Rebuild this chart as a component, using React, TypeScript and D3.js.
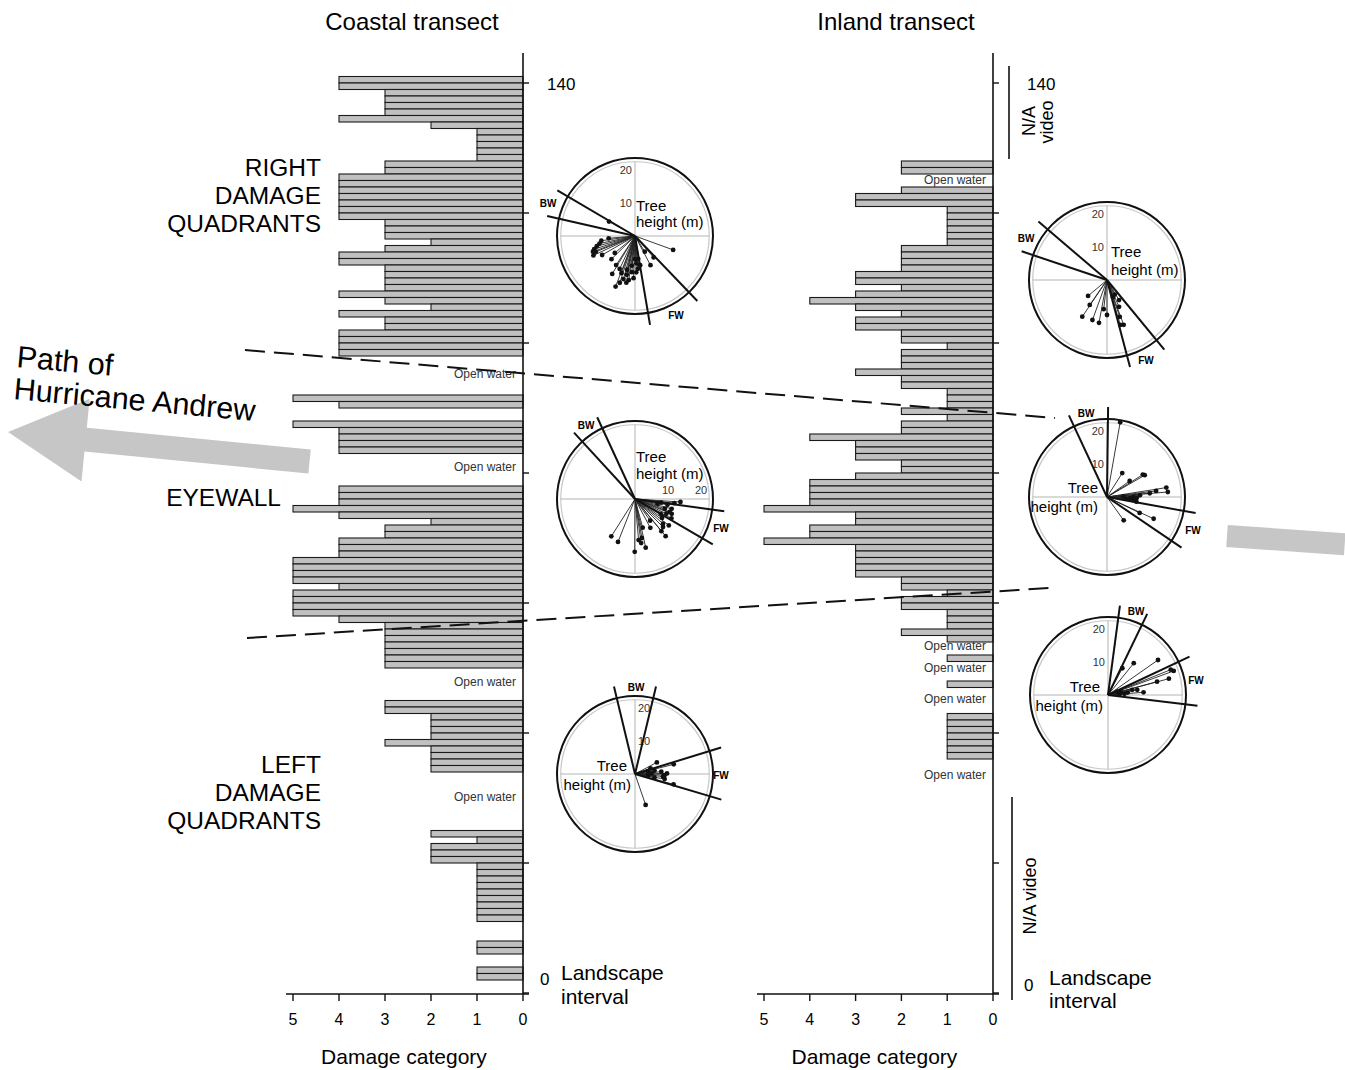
import React from "react"
import * as d3 from "d3"

// Damage category for each landscape interval, listed from the top of the transect down.
// null = open water / no bar
const coastalTopInterval = 141
const coastalDamage = [
  4, 4, 3, 3, 3, 3, 4, 2, 1, 1, 1, 1, 1, 3, 3, 4, 4, 4, 4, 4, 4, 4, 3, 3, 3, 2, 3, 4, 4, 3, 3, 3, 3, 4, 3, 2, 4, 3, 3, 4, 4, 4, 4,
  null, null, null, null, null, null,
  5, 4,
  null, null,
  5, 4, 4, 4, 4,
  null, null, null, null, null,
  4, 4, 4, 5, 4, 2, 3, 3, 4, 4, 4, 5, 5, 5, 5, 4, 5, 5, 5, 5, 4, 3, 3, 3, 3, 3, 3, 3,
  null, null, null, null, null,
  3, 3, 2, 2, 2, 2, 3, 2, 2, 2, 2,
  null, null, null, null, null, null, null, null, null,
  2, 1, 2, 2, 2, 1, 1, 1, 1, 1, 1, 1, 1, 1,
  null, null, null,
  1, 1,
  null, null,
  1, 1
]

const inlandTopInterval = 128
const inlandDamage = [
  2, 2,
  null, null,
  2, 3, 3, 1, 1, 1, 1, 1, 1, 2, 2, 2, 2, 3, 3, 2, 3, 4, 3, 2, 3, 3, 2, 2, 1, 2, 2, 2, 3,
  2, 2, 1, 1, 1, 2, 1, 2, 2, 4, 3, 3, 3, 2, 2, 3, 4, 4, 4, 4, 5, 3, 3, 4, 4, 5, 3, 3, 3, 3, 3, 2, 2, 1, 2, 2, 1, 1, 1,
  2, 1,
  null, null,
  1,
  null, null, null,
  1,
  null, null, null, null,
  1, 1, 1, 1, 1, 1, 1
]

// "Open water" annotations (landscape interval at the label)
const coastalOpenWater = [95.2, 80.9, 47.8, 30.2]
const inlandOpenWater = [125.1, 53.4, 50.0, 45.2, 33.5]

const damageTicks = [5, 4, 3, 2, 1, 0]
const intervalTicks = [0, 20, 40, 60, 80, 100, 120, 140]

// Tree falls: [bearing in degrees, tree height in m]
const coastalRightFalls = [
  [110, 12.3], [148, 5.6], [139, 8.6], [152, 10], [299, 9], [262, 10.3], [249.5, 13.6], [252, 13], [255, 12],
  [258, 11], [248, 12.8], [245, 13.9], [240, 11.5], [225.5, 10], [213, 10.5], [211, 13.4], [201, 16.4], [198, 14.9],
  [190.5, 14.4], [177, 8.3], [185, 11], [192, 12], [195, 13.5], [188, 13.5], [182, 12.8], [178, 11], [186, 9],
  [175, 10], [172, 7], [193, 10.5], [200, 12], [205, 11], [170, 9], [180, 7], [230, 8], [265, 8]
]
const coastalEyeFalls = [
  [93.8, 13.8], [110.5, 11.2], [105, 11.5], [100, 10], [98, 8], [102, 7], [108, 9.5], [115, 10.5], [120, 9],
  [125, 10], [131.4, 11.3], [140.5, 14.6], [140.6, 12.6], [135, 12], [152, 9.9], [145, 8], [212.4, 13.4],
  [201.6, 14], [180.3, 16], [167.6, 15.1], [172, 13.5], [175, 12.5], [170, 12], [165, 9], [96, 12], [112, 12],
  [118, 12.5], [128, 13]
]
const coastalLeftFalls = [
  [161, 9.9], [76, 12.1], [62, 7.5], [105, 12.1], [99.6, 9.1], [89, 9.7], [92, 9], [95, 8.5], [85, 8],
  [80, 6], [70, 5], [88, 5], [100, 6], [78, 4], [95, 4]
]
const inlandRightFalls = [
  [229.9, 7.5], [214.7, 9.2], [214, 13.4], [200, 12.9], [190.6, 13.2], [186.4, 8.9], [180, 10.6], [160.9, 5.5],
  [149, 7.1], [155.8, 8.9], [160.9, 11.8], [163.5, 14.2], [159.6, 14.5], [152, 5]
]
const inlandEyeFalls = [
  [10, 23], [32.5, 8.6], [54.8, 8.4], [60, 13.2], [58, 12.8], [81, 18.2], [85.3, 18.5], [83, 15], [85, 13],
  [87, 10], [90, 8], [93, 7], [95, 6], [92, 9], [97, 8], [99, 9], [144.4, 8.7], [116, 11], [115, 15.6], [88, 5]
]
const inlandLeftFalls = [
  [28.2, 9.2], [39, 12.4], [55, 18.5], [69.9, 21.2], [68, 20.5], [75, 19.1], [74.8, 15.4], [85.7, 10.8],
  [80, 9], [78, 7.5], [83, 6], [86, 5], [76, 4], [88, 3.5], [70, 3]
]

// Backwind / forward wind sector bounds (bearings, degrees)
const coastalRightBW = [300.5, 282.8]
const coastalRightFW = [136.2, 170.4]
const coastalEyeBW = [335.2, 317.4]
const coastalEyeFW = [97.8, 120.3]
const coastalLeftBW = [346.5, 13.5]
const coastalLeftFW = [72.9, 106.5]
const inlandRightBW = [310.4, 288.6]
const inlandRightFW = [140.5, 165.2]
const inlandEyeBW = [335, 0.7]
const inlandEyeFW = [100.3, 124.2]
const inlandLeftBW = [7.6, 25.8]
const inlandLeftFW = [64.8, 96.8]

const FONT = "'Liberation Sans', Arial, Helvetica, sans-serif"

const yScale = d3.scaleLinear().domain([0, 140]).range([993, 83])
const rScale = d3.scaleLinear().domain([0, 20]).range([0, 66])
const toRad = (deg) => (deg * Math.PI) / 180

function Transect({ data, top, axisX, leftX, openWater, title, titleX, labelX }) {
  const x = d3.scaleLinear().domain([0, 5]).range([axisX, leftX])
  const barH = yScale(0) - yScale(1)
  return (
    <g>
      <text x={titleX} y={30} fontSize={24} textAnchor="middle" fontFamily={FONT}>{title}</text>
      {data.map((d, i) =>
        d == null ? null : (
          <rect
            key={i}
            x={x(d)}
            y={yScale(top - i)}
            width={x(0) - x(d)}
            height={barH}
            fill="#c0c0c0"
            stroke="#1a1a1a"
            strokeWidth={1.1}
          />
        )
      )}
      {openWater.map((v, i) => (
        <text key={i} x={axisX - 7} y={yScale(v) + 4} fontSize={12} textAnchor="end" fill="#333" fontFamily={FONT}>
          Open water
        </text>
      ))}
      <line x1={axisX} x2={axisX} y1={53} y2={994} stroke="#111" strokeWidth={1.6} />
      {intervalTicks.map((t) => (
        <line key={t} x1={axisX} x2={axisX + 6} y1={yScale(t)} y2={yScale(t)} stroke="#111" strokeWidth={1.4} />
      ))}
      <line x1={leftX - 7} x2={axisX + 6} y1={994} y2={994} stroke="#111" strokeWidth={1.6} />
      {damageTicks.map((t) => (
        <g key={t}>
          <line x1={x(t)} x2={x(t)} y1={994} y2={1001} stroke="#111" strokeWidth={1.4} />
          <text x={x(t)} y={1025} fontSize={16} textAnchor="middle" fontFamily={FONT}>{t}</text>
        </g>
      ))}
      <text x={(leftX + axisX) / 2 - 4} y={1064} fontSize={21} textAnchor="middle" fontFamily={FONT}>
        Damage category
      </text>
      <text x={labelX} y={yScale(140) + 7} fontSize={17} fontFamily={FONT}>140</text>
    </g>
  )
}

function Polar({ cx, cy, falls, bw, fw, scaleSide, tree, bwLabel, fwLabel }) {
  const ring = rScale(22.5)
  const windLen = rScale(27.3)
  const pt = (deg, v) => d3.pointRadial(toRad(deg), v)
  return (
    <g transform={`translate(${cx},${cy})`} fontFamily={FONT}>
      <circle r={ring} fill="none" stroke="#c8c8c8" strokeWidth={1.2} />
      <circle r={78} fill="none" stroke="#111" strokeWidth={2} />
      <line x1={-ring} x2={ring} y1={0} y2={0} stroke="#b4b4b4" strokeWidth={1} />
      <line x1={0} x2={0} y1={-ring} y2={ring} stroke="#b4b4b4" strokeWidth={1} />
      {[10, 20].map((v) =>
        scaleSide === "east" ? (
          <text key={v} x={rScale(v)} y={-5} fontSize={11} textAnchor="middle" fill="#333">{v}</text>
        ) : (
          <text
            key={v}
            x={scaleSide === "left" ? -3 : 3}
            y={-rScale(v) + 4}
            fontSize={11}
            textAnchor={scaleSide === "left" ? "end" : "start"}
            fill="#333"
          >
            {v}
          </text>
        )
      )}
      <text x={tree.x} y={tree.y1 + 5} fontSize={15} textAnchor={tree.anchor}>Tree</text>
      <text x={tree.x2} y={tree.y2 + 5} fontSize={15} textAnchor={tree.anchor}>height (m)</text>
      {falls.map(([a, h], i) => {
        const [px, py] = pt(a, rScale(h))
        return <line key={i} x1={0} y1={0} x2={px} y2={py} stroke="#222" strokeWidth={0.9} />
      })}
      {falls.map(([a, h], i) => {
        const [px, py] = pt(a, rScale(h))
        return <circle key={i} cx={px} cy={py} r={2.4} fill="#111" />
      })}
      {[...bw, ...fw].map((a, i) => {
        const [px, py] = pt(a, windLen)
        return <line key={i} x1={0} y1={0} x2={px} y2={py} stroke="#111" strokeWidth={2} />
      })}
      <text x={bwLabel[0]} y={bwLabel[1] + 4} fontSize={10} fontWeight="bold" textAnchor="middle">BW</text>
      <text x={fwLabel[0]} y={fwLabel[1] + 4} fontSize={10} fontWeight="bold" textAnchor="middle">FW</text>
    </g>
  )
}

const polarPlots = [
  {
    cx: 635, cy: 236, falls: coastalRightFalls, bw: coastalRightBW, fw: coastalRightFW, scaleSide: "left",
    tree: { anchor: "start", x: 1, x2: 1, y1: -30, y2: -14 }, bwLabel: [-87, -33], fwLabel: [41, 79]
  },
  {
    cx: 635, cy: 499, falls: coastalEyeFalls, bw: coastalEyeBW, fw: coastalEyeFW, scaleSide: "east",
    tree: { anchor: "start", x: 1, x2: 1, y1: -42, y2: -25 }, bwLabel: [-49, -74], fwLabel: [86, 29]
  },
  {
    cx: 635, cy: 774, falls: coastalLeftFalls, bw: coastalLeftBW, fw: coastalLeftFW, scaleSide: "right",
    tree: { anchor: "end", x: -8, x2: -4, y1: -8, y2: 11 }, bwLabel: [1, -87], fwLabel: [86, 1]
  },
  {
    cx: 1107, cy: 280, falls: inlandRightFalls, bw: inlandRightBW, fw: inlandRightFW, scaleSide: "left",
    tree: { anchor: "start", x: 4, x2: 4, y1: -28, y2: -10 }, bwLabel: [-81, -42], fwLabel: [39, 80]
  },
  {
    cx: 1107, cy: 497, falls: inlandEyeFalls, bw: inlandEyeBW, fw: inlandEyeFW, scaleSide: "left",
    tree: { anchor: "end", x: -9, x2: -9, y1: -9, y2: 10 }, bwLabel: [-21, -84], fwLabel: [86, 33]
  },
  {
    cx: 1108, cy: 695, falls: inlandLeftFalls, bw: inlandLeftBW, fw: inlandLeftFW, scaleSide: "left",
    tree: { anchor: "end", x: -8, x2: -5, y1: -8, y2: 11 }, bwLabel: [28, -84], fwLabel: [88, -15]
  }
]

export default function App() {
  return (
    <div style={{ position: "absolute", left: 0, top: 0 }}>
      <svg width={1345} height={1070} style={{ display: "block", background: "#fff" }} fontFamily={FONT}>
        {/* hurricane path arrow */}
        <g transform="translate(8,432) rotate(5.6)">
          <path d="M0,0 L78,-41 L78,-12 L303,-12 L303,12 L78,12 L78,42 Z" fill="#c6c6c6" />
        </g>
        <g transform="translate(1227,536) rotate(4)">
          <path d="M0,-11 L118,-11 L118,11 L0,11 Z" fill="#c6c6c6" />
        </g>
        <text transform="translate(16,367) rotate(5.2)" fontSize={30.5}>Path of</text>
        <text transform="translate(13,399) rotate(5.2)" fontSize={30.5}>Hurricane Andrew</text>

        <Transect
          data={coastalDamage}
          top={coastalTopInterval}
          axisX={523}
          leftX={293}
          openWater={coastalOpenWater}
          title="Coastal transect"
          titleX={412}
          labelX={547}
        />
        <Transect
          data={inlandDamage}
          top={inlandTopInterval}
          axisX={993}
          leftX={764}
          openWater={inlandOpenWater}
          title="Inland transect"
          titleX={896}
          labelX={1027}
        />

        {/* quadrant labels */}
        <g fontSize={24.5} textAnchor="end">
          <text x={321} y={176}>RIGHT</text>
          <text x={321} y={204}>DAMAGE</text>
          <text x={321} y={232}>QUADRANTS</text>
          <text x={281} y={506}>EYEWALL</text>
          <text x={321} y={773}>LEFT</text>
          <text x={321} y={801}>DAMAGE</text>
          <text x={321} y={829}>QUADRANTS</text>
        </g>

        {/* landscape interval labels */}
        <text x={540} y={985} fontSize={17}>0</text>
        <text x={561} y={980} fontSize={21}>Landscape</text>
        <text x={561} y={1004} fontSize={21}>interval</text>
        <text x={1024} y={991} fontSize={17}>0</text>
        <text x={1049} y={985} fontSize={21}>Landscape</text>
        <text x={1049} y={1008} fontSize={21}>interval</text>

        {/* N/A video markers */}
        <line x1={1009} x2={1009} y1={66} y2={159} stroke="#111" strokeWidth={1.6} />
        <text transform="translate(1035,121) rotate(-90)" fontSize={18} textAnchor="middle">N/A</text>
        <text transform="translate(1053,122) rotate(-90)" fontSize={18} textAnchor="middle">video</text>
        <line x1={1012} x2={1012} y1={797} y2={1000} stroke="#111" strokeWidth={1.6} />
        <text transform="translate(1036,896) rotate(-90)" fontSize={18} textAnchor="middle">N/A video</text>

        {/* eyewall boundaries */}
        <line x1={245} y1={350} x2={1055} y2={418} stroke="#111" strokeWidth={2} strokeDasharray="20 9" />
        <line x1={247} y1={638} x2={1050} y2={588} stroke="#111" strokeWidth={2} strokeDasharray="20 9" />

        {polarPlots.map((p, i) => (
          <Polar key={i} {...p} />
        ))}
      </svg>
    </div>
  )
}
